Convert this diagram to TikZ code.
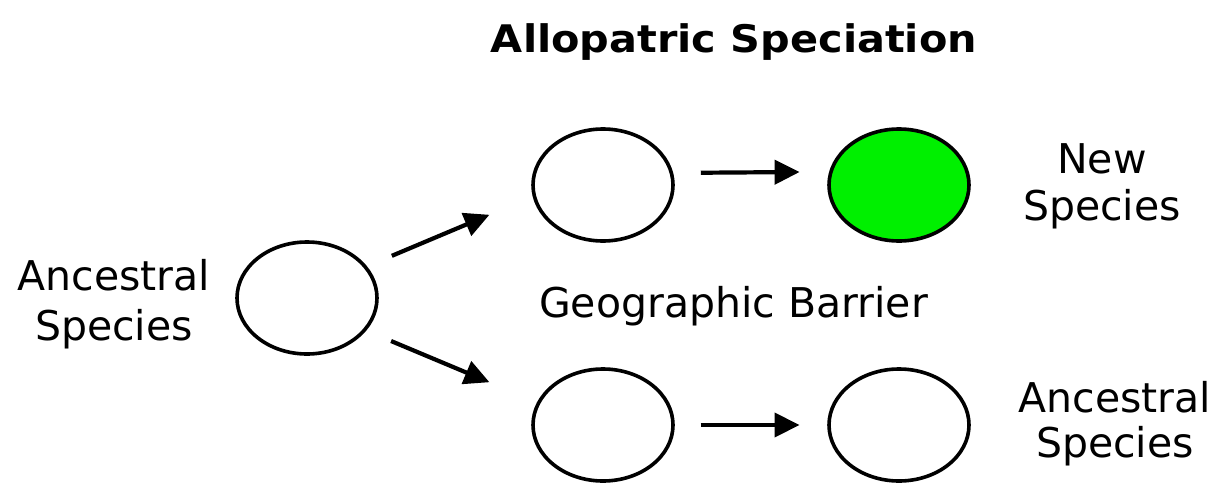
\documentclass[tikz,border=0pt]{standalone}
\usepackage{fontspec}
\setmainfont{DejaVu Sans}
\usetikzlibrary{arrows.meta,shapes.geometric}
\definecolor{specgreen}{RGB}{0,240,0}
\begin{document}
\begin{tikzpicture}[x=1pt,y=-1pt,
  species/.style={draw, ellipse, line width=3.6pt, minimum width=140pt, minimum height=112pt, inner sep=0pt, outer sep=0pt},
  lbl/.style={font=\fontsize{41}{50}\selectfont, align=center, inner sep=0pt},
  arr/.style={line width=4.2pt, -{Triangle[length=25pt,width=24pt]}}]
\useasboundingbox (0,0) rectangle (1214,482);
\node[font=\bfseries\fontsize{38}{46}\selectfont, anchor=base, inner sep=0pt] (title) at (734,52) {\scalebox{1.09}[1]{Allopatric Speciation}};
\node[species] (anc) at (307,298) {};
\node[species] (tl) at (603,185) {};
\node[species, fill=specgreen] (tr) at (899,185) {};
\node[species] (bl) at (603,425) {};
\node[species] (br) at (899,425) {};
\node[lbl] (ancl) at (114,304) {Ancestral\\Species};
\node[lbl] (newl) at (1102,186) {New\\[-3pt]Species};
\node[lbl] (ancr) at (1115,424) {Ancestral\\[-5pt]Species};
\node[lbl, anchor=base] (geo) at (733.5,317) {Geographic Barrier};
\draw[arr, shorten <=28.8pt, shorten >=48.7pt] (anc.28.5) -- (tl.189);
\draw[arr, shorten <=28.8pt, shorten >=53.4pt] (anc.-29.4) -- (bl.161.2);
\draw[arr, shorten <=29.4pt, shorten >=31.4pt] (tl.10.6) -- (tr.169.4);
\draw[arr, shorten <=27.5pt, shorten >=29.5pt] (bl.east) -- (br.west);
\end{tikzpicture}
\end{document}
